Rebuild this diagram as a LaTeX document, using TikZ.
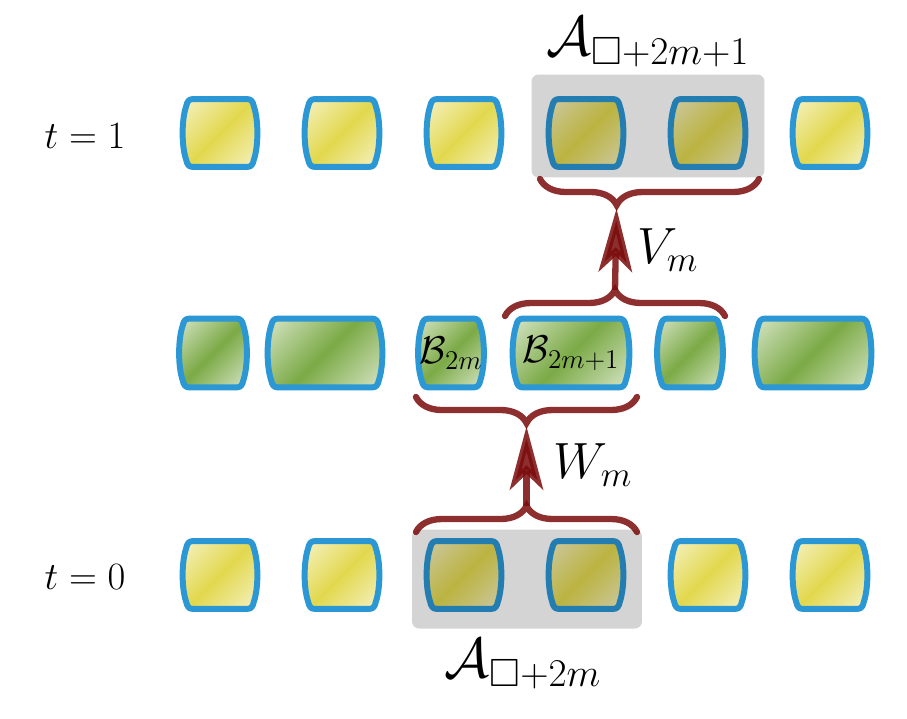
\RequirePackage{fix-cm}
\documentclass[tikz,border=0pt]{standalone}
\usepackage{amssymb}
\usetikzlibrary{positioning, calc, arrows.meta, decorations.pathreplacing}
\definecolor{cellBlue}{HTML}{2B97D5}
\definecolor{cellYellow}{HTML}{E2D84E}
\definecolor{cellYellowLt}{HTML}{FBF9E6}
\definecolor{cellGreen}{HTML}{7BAA46}
\definecolor{cellGreenLt}{HTML}{F0F5EA}
\definecolor{groupGray}{HTML}{D4D4D4}
\definecolor{braceRed}{HTML}{7A0A0A}
\pgfdeclarehorizontalshading{cellYfill}{100bp}{color(0bp)=(cellYellowLt); color(5bp)=(cellYellowLt); color(50bp)=(cellYellow); color(95bp)=(cellYellowLt); color(100bp)=(cellYellowLt)}
\pgfdeclarehorizontalshading{cellGfill}{100bp}{color(0bp)=(cellGreenLt); color(5bp)=(cellGreenLt); color(50bp)=(cellGreen); color(95bp)=(cellGreenLt); color(100bp)=(cellGreenLt)}
% barrel-shaped outline around a (plain) node
\newcommand{\drawCell}[2]{%
  \draw[cellEdge, #2] ($(#1.north west)+(5.5pt,0)$) -- ($(#1.north east)+(-5.5pt,0)$)
    .. controls ($(#1.north east)+(-3.5pt,0)$) and ($(#1.north east)+(-2.5pt,-1.5pt)$) .. ($(#1.north east)+(-2pt,-4pt)$)
    .. controls ($(#1.north east)+(0.7pt,-12pt)$) and ($(#1.south east)+(0.7pt,12pt)$) .. ($(#1.south east)+(-2pt,4pt)$)
    .. controls ($(#1.south east)+(-2.5pt,1.5pt)$) and ($(#1.south east)+(-3.5pt,0)$) .. ($(#1.south east)+(-5.5pt,0)$)
    -- ($(#1.south west)+(5.5pt,0)$)
    .. controls ($(#1.south west)+(3.5pt,0)$) and ($(#1.south west)+(2.5pt,1.5pt)$) .. ($(#1.south west)+(2pt,4pt)$)
    .. controls ($(#1.south west)+(-0.7pt,12pt)$) and ($(#1.north west)+(-0.7pt,-12pt)$) .. ($(#1.north west)+(2pt,-4pt)$)
    .. controls ($(#1.north west)+(2.5pt,-1.5pt)$) and ($(#1.north west)+(3.5pt,0)$) .. cycle;}
\tikzset{
    cellEdge/.style={draw=cellBlue, line width=3.4pt, line join=round},
    yshade/.style={shading=cellYfill, shading angle=-45},
    gshade/.style={shading=cellGfill, shading angle=-45},
    % cell variants
    ycell/.style={rectangle, inner sep=0pt, minimum width=1.48cm, minimum height=1.34cm,
        append after command={\pgfextra{\drawCell{\tikzlastnode}{yshade}}}},
    gcell/.style={rectangle, inner sep=0pt, minimum height=1.36cm,
        append after command={\pgfextra{\drawCell{\tikzlastnode}{gshade}}}},
    group/.style={rectangle, rounded corners=4pt, fill=groupGray, inner sep=0pt},
    % braces and arrows
    brc/.style={draw=braceRed, opacity=0.85, line width=3.6pt, line cap=round, decorate, decoration={brace, amplitude=0.52cm}},
    conn/.style={draw=braceRed, opacity=0.85, line width=3.6pt, -{Stealth[length=36pt, width=19pt, inset=9pt]}, shorten >=2pt},
    % labels
    tLabel/.style={font=\fontsize{22}{25}\selectfont},
    opLabel/.style={font=\fontsize{29}{33}\selectfont},
    setLabel/.style={font=\fontsize{32}{36}\selectfont},
    cellLabel/.style={font=\fontsize{22}{26}\selectfont}
}

\begin{document}
\begin{tikzpicture}[x=0.02cm, y=-0.02cm]
    \useasboundingbox (0,0) rectangle (907,718);

    % t = 1 row
    \foreach \k/\xx in {1/220, 2/342, 3/464, 4/586, 5/708, 6/830}
        \node[ycell] (up\k) at (\xx,133) {};

    % intermediate row
    \node[gcell, minimum width=1.34cm] (mid1) at (213,353) {};
    \node[gcell, minimum width=2.28cm] (mid2) at (325,353) {};
    \node[gcell, minimum width=1.30cm, cellLabel] (mid3) at (451,353) {$\mathcal{B}_{2m}$};
    \node[gcell, minimum width=2.32cm, cellLabel] (mid4) at (571,353) {$\mathcal{B}_{2m+1}$};
    \node[gcell, minimum width=1.30cm] (mid5) at (690,353) {};
    \node[gcell, minimum width=2.32cm] (mid6) at (813,353) {};

    % t = 0 row
    \foreach \k/\xx in {1/220, 2/342, 3/464, 4/586, 5/708, 6/830}
        \node[ycell] (dn\k) at (\xx,575) {};

    % grouped blocks
    \begin{scope}[blend mode=multiply]
        \node[group, minimum width=4.66cm, minimum height=2.06cm] (grpUp) at (648,126) {};
        \node[group, minimum width=4.6cm, minimum height=1.98cm] (grpDn) at (527,579) {};
    \end{scope}

    \node[tLabel] (t1) at (85,136) {$t=1$};
    \node[tLabel] (t0) at (85,577) {$t=0$};
    \node[setLabel] (aUp) at (648,42) {$\mathcal{A}_{\Box+2m+1}$};
    \node[setLabel] (aDn) at (523,664) {$\mathcal{A}_{\Box+2m}$};

    % braces
    \draw[brc] (416,532) -- (637,532);
    \draw[brc] (637,397) -- (416,397);
    \draw[brc] (505,316) -- (725,316);
    \draw[brc, decoration={aspect=0.65}] (759,179) -- (540,179);

    \coordinate (wLo) at (526.5,506);
    \coordinate (wHi) at (526.5,423);
    \coordinate (vLo) at (615,290);
    \coordinate (vHi) at (616.6,205);

    \draw[conn] (wLo) -- (wHi);
    \draw[conn] (vLo) -- (vHi);

    \node[opLabel] (wLab) at (593,465) {$W_m$};
    \node[opLabel] (vLab) at (668,250) {$V_m$};
\end{tikzpicture}
\end{document}
